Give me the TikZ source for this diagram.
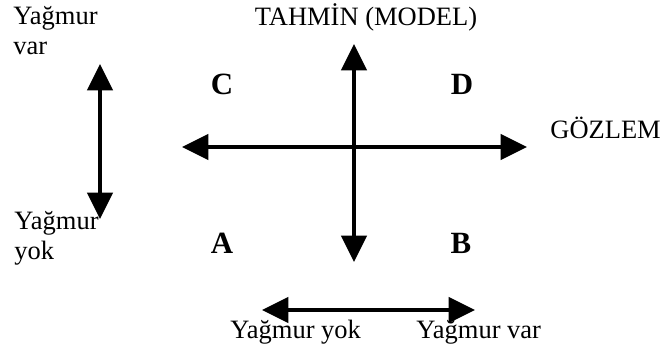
\documentclass[tikz,border=0pt]{standalone}
\usepackage{fontspec}
\setmainfont{Liberation Serif}
\usetikzlibrary{arrows.meta,positioning}

\begin{document}
\begin{tikzpicture}[
  x=0.453pt, y=-0.453pt,
  lbl/.style={font=\fontsize{12}{14}\selectfont, inner sep=0pt, align=left},
  cell/.style={font=\fontsize{14}{16}\selectfont\bfseries, inner sep=0pt, anchor=base},
  axis/.style={{Triangle[length=12pt,width=11.5pt]}-{Triangle[length=12pt,width=11.5pt]}, line width=1.5pt}]
\useasboundingbox (0,0) rectangle (661,351);
% axis ends
\coordinate (top) at (354,44);
\coordinate (bot) at (354,262);
\coordinate (lft) at (182,147);
\coordinate (rgt) at (527,147);
\coordinate (yv) at (100,64);
\coordinate (yy) at (100,219);
\coordinate (ol) at (262,310);
\coordinate (or) at (475,310);
% labels
\node[lbl, anchor=base] (tahmin) at (366,25) {TAHM\.{I}N (MODEL)};
\node[lbl, anchor=base west] (gozlem) at (550,138) {GÖZLEM};
\node[lbl, anchor=base west] (var) at (13,55) {Yağmur\\var};
\node[lbl, anchor=base west] (yok) at (14,260) {Yağmur\\yok};
\node[lbl, anchor=base west] (oyok) at (230,338) {Yağmur yok};
\node[lbl, anchor=base west] (ovar) at (416,338) {Yağmur var};
\node[cell] (c) at (222,94) {C};
\node[cell] (d) at (462,94) {D};
\node[cell] (a) at (222,253) {A};
\node[cell] (b) at (461,253) {B};
% arrows
\draw[axis] (bot) -- (top);
\draw[axis] (lft) -- (rgt);
\draw[axis] (yy) -- (yv);
\draw[axis] (ol) -- (or);
\end{tikzpicture}
\end{document}
